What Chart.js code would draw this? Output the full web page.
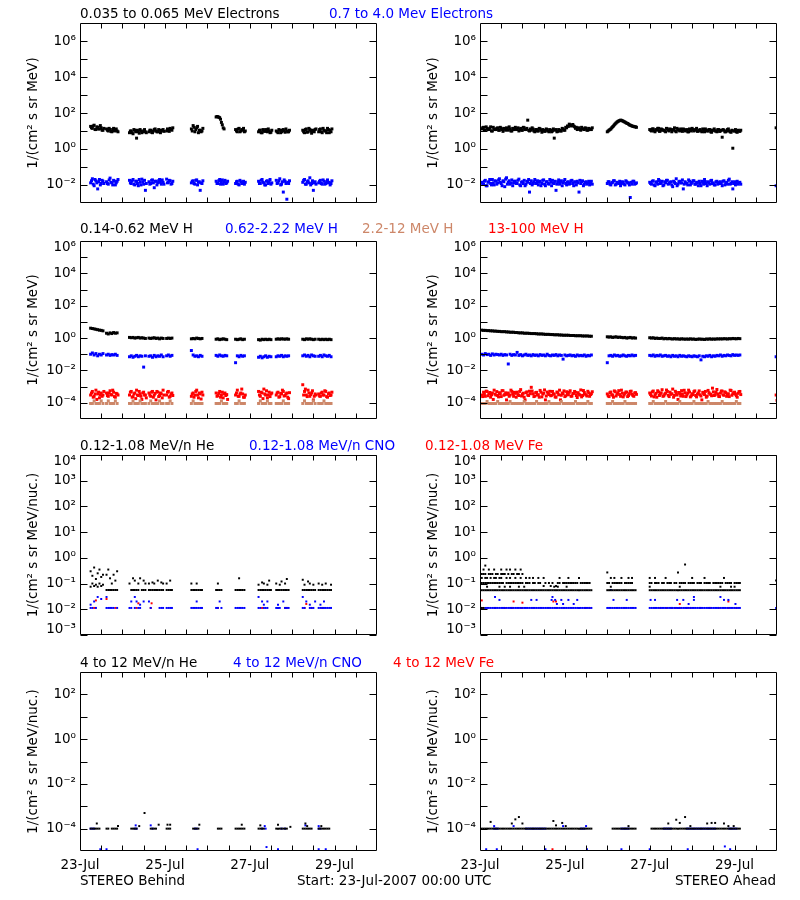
<!DOCTYPE html>
<html>
<head>
<meta charset="utf-8">
<script src="https://cdn.jsdelivr.net/npm/chart.js@4.4.1/dist/chart.umd.min.js"></script>
<style>
  body { margin: 0; background: #fff; }
  #page { position: relative; width: 800px; height: 900px; background: #fff; font-family: "DejaVu Sans", sans-serif; font-size: 13.5px; }
  #page canvas { position: absolute; }
  .lbl { position: absolute; white-space: nowrap; line-height: 16px; }
</style>
</head>
<body>
<div id="page"></div>
<script>
// time axis: hours after 23-Jul-2007 00:00 UTC
const xLabelHours = [0, 48, 96, 144];
const xLabels = ['23-Jul', '25-Jul', '27-Jul', '29-Jul'];
const xTickMarks = [12, 24, 36, 48, 60, 72, 84, 96, 108, 120, 132, 144, 156];

// hourly sample spans (first hour, last hour)
const behindSpans = [[6, 13], [15, 21], [28, 37], [39, 47], [49, 52], [63, 69], [77, 83], [88, 93], [101, 108], [111, 118], [126, 133], [135, 142]];
const aheadSpans = [[1, 63], [72, 88], [96, 147], [167.5, 167.5]];

// ---- electrons, STEREO Behind (hh:00 and hh:30 samples)
const elecLoBehind = [
  [18, 14, 21, 12, 16, 13, 15, 11],
  [13, 10, 12, 9, 14, 11, 10],
  [8, 10, 7, 11, 4, 9, 12, 8, 10, 9],
  [9, 11, 8, 12, 10, 9, 11, 10, 12],
  [10, 12, 14, 11],
  [13, 20, 9, 15, 8, 11, 10],
  [60, 62, 55, 30, 15, null, null],
  [12, 9, 14, 10, 11, 9],
  [9, 11, 8, 10, 12, 9, 10, 8.5],
  [10, 8, 11, 9, 12, 8.5, 10, 9],
  [11, 8, 13, 9, 12, 7.5, 10, 12],
  [9, 13, 8, 11, 10, 14, 8, 9]
];
const elecLoBehindHalf = [
  [15, 19, 12, 17, 13, 20, 11, 14],
  [11, 14, 9.5, 12, 10, 13, 9],
  [10, 8, 12, 9, 11, 7.5, 10, 9, 12, 8],
  [11, 8.5, 10, 13, 9, 12, 8, 11, 9.5],
  [13, 9.5, 12, 15],
  [10, 16, 12, 18, 11, 9, 14],
  [64, 58, 45, 22, 13, null, null],
  [10, 13, 9, 12, 14, 10],
  [11, 8, 12, 9.5, 10, 13, 8, 11],
  [9, 12, 8, 11, 10, 13, 9, 11],
  [9, 12, 8.5, 14, 10, 11, 9, 13],
  [12, 9, 14, 10, 8, 12, 11, 13]
];
const elecHiBehind = [
  [0.013, 0.022, 0.009, 0.017, 0.006, 0.02, 0.012, 0.016],
  [0.015, 0.011, 0.024, 0.013, 0.018, 0.01, 0.016],
  [0.018, 0.012, 0.02, 0.01, 0.016, 0.009, 0.014, 0.021, 0.011, 0.005],
  [0.015, 0.012, 0.019, 0.007, 0.016, 0.013, 0.02, 0.011, 0.014],
  [0.021, 0.014, 0.017, 0.012],
  [0.013, 0.017, 0.011, 0.019, 0.014, 0.005, 0.012],
  [0.016, 0.012, 0.02, 0.014, 0.011, 0.018, 0.013],
  [0.012, 0.016, 0.01, 0.015, 0.013, 0.011],
  [0.016, 0.012, 0.02, 0.013, 0.01, 0.017, 0.014, 0.011],
  [0.018, 0.013, 0.022, 0.011, 0.004, 0.016, 0.0016, 0.012],
  [0.014, 0.02, 0.011, 0.017, 0.025, 0.012, 0.005, 0.015],
  [0.013, 0.018, 0.011, 0.016, 0.012, 0.019, 0.014, 0.012]
];
const elecHiBehindHalf = [
  [0.017, 0.011, 0.02, 0.013, 0.015, 0.01, 0.018, 0.012],
  [0.012, 0.019, 0.014, 0.01, 0.016, 0.013, 0.02],
  [0.013, 0.017, 0.011, 0.016, 0.012, 0.02, 0.01, 0.015, 0.018, 0.012],
  [0.011, 0.018, 0.013, 0.016, 0.01, 0.017, 0.014, 0.019, 0.011],
  [0.013, 0.018, 0.011, 0.016],
  [0.016, 0.012, 0.018, 0.01, 0.015, 0.013, 0.017],
  [0.012, 0.017, 0.011, 0.019, 0.015, 0.012, 0.016],
  [0.015, 0.011, 0.018, 0.012, 0.016, 0.014],
  [0.012, 0.018, 0.014, 0.01, 0.016, 0.012, 0.02, 0.013],
  [0.012, 0.017, 0.01, 0.015, 0.019, 0.012, 0.014, 0.017],
  [0.018, 0.011, 0.015, 0.013, 0.01, 0.017, 0.013, 0.011],
  [0.016, 0.012, 0.019, 0.011, 0.015, 0.013, 0.01, 0.017]
];

// ---- electrons, STEREO Ahead (hh:00 and hh:30 samples)
const elecLoAhead = [
  [13, 16, 11, 14, 12, 17, 10, 13, 12, 15, 11, 14, 9.5, 13, 15, 11, 13, 10, 12, 16,
   12, 10, 14, 11, 15, 12, 40, 10, 11, 13, 9, 12, 10, 13, 8.5, 11, 10, 12, 9, 11,
   10, 4, 12, 9.5, 11, 10, 13, 11, 15, 18, 22, 20, 19, 14, 12, 15, 11, 13, 12, 14,
   11, 13, 12],
  [9, 11, 13, 17, 22, 28, 34, 38, 39, 35, 31, 27, 24, 21, 19, 18, 17],
  [12, 10, 13, 9, 11, 14, 10, 12, 11, 9, 13, 10, 12, 11, 15, 9, 12, 10, 11, 13,
   10, 12, 9, 11, 14, 10, 12, 9.5, 11, 10, 13, 9, 11, 10, 12, 8.5, 11, 10, 9, 12,
   10, 4.5, 11, 9, 12, 10, 8.5, 1.1, 10, 9, 11, 9.5],
  [15]
];
const elecLoAheadHalf = [
  [15, 11, 17, 12, 14, 10, 16, 12, 14, 11, 16, 12, 14, 11, 13, 17, 10, 14, 12, 13,
   15, 12, 11, 16, 12, 14, 11, 13, 15, 10, 12, 10, 14, 11, 12, 9.5, 13, 10, 12, 9,
   13, 11, 9, 12, 10, 14, 11, 16, 19, 24, 19, 23, 17, 16, 14, 12, 16, 13, 15, 11,
   14, 12, 15],
  [10, 12, 15, 19, 25, 31, 36, 40, 37, 33, 29, 26, 22, 20, 18, 17, 16],
  [11, 13, 10, 12, 14, 9.5, 13, 11, 10, 14, 11, 13, 9, 12, 10, 14, 11, 13, 9.5, 12,
   11, 9, 13, 10, 12, 11, 14, 10, 12, 9, 11, 13, 10, 12, 9, 11, 13, 10, 12, 9.5,
   11, 12, 9, 10, 13, 9, 11, 10, 12, 8.5, 10, 11],
  [null]
];
const elecHiAhead = [
  [0.014, 0.011, 0.018, 0.009, 0.015, 0.012, 0.02, 0.01, 0.016, 0.013,
   0.022, 0.012, 0.017, 0.008, 0.025, 0.014, 0.011, 0.019, 0.013, 0.016,
   0.012, 0.021, 0.009, 0.015, 0.018, 0.011, 0.014, 0.004, 0.017, 0.012,
   0.02, 0.013, 0.01, 0.016, 0.012, 0.019, 0.009, 0.015, 0.011, 0.014,
   0.018, 0.012, 0.005, 0.015, 0.011, 0.017, 0.013, 0.02, 0.01, 0.015,
   0.012, 0.018, 0.009, 0.014, 0.016, 0.004, 0.012, 0.017, 0.011, 0.015,
   0.013, 0.01, 0.016],
  [0.012, 0.015, 0.01, 0.014, 0.017, 0.011, 0.013, 0.016, 0.012, 0.014, 0.01, 0.015, 0.013, 0.002, 0.011, 0.016, 0.012],
  [0.014, 0.011, 0.017, 0.009, 0.015, 0.02, 0.012, 0.016, 0.01, 0.013,
   0.018, 0.012, 0.015, 0.008, 0.014, 0.022, 0.011, 0.016, 0.013, 0.006,
   0.015, 0.012, 0.019, 0.01, 0.014, 0.017, 0.011, 0.013, 0.016, 0.009,
   0.014, 0.02, 0.012, 0.015, 0.011, 0.018, 0.013, 0.01, 0.016, 0.012,
   0.015, 0.009, 0.017, 0.013, 0.011, 0.021, 0.012, 0.006, 0.015, 0.013,
   0.011, 0.014],
  [0.009]
];
const elecHiAheadHalf = [
  [0.011, 0.016, 0.009, 0.014, 0.02, 0.01, 0.013, 0.017, 0.011, 0.019,
   0.014, 0.009, 0.015, 0.021, 0.011, 0.017, 0.013, 0.009, 0.016, 0.012,
   0.018, 0.01, 0.014, 0.012, 0.009, 0.016, 0.02, 0.012, 0.01, 0.015,
   0.012, 0.017, 0.014, 0.009, 0.018, 0.011, 0.015, 0.012, 0.02, 0.009,
   0.013, 0.016, 0.011, 0.019, 0.014, 0.009, 0.016, 0.012, 0.014, 0.011,
   0.017, 0.012, 0.015, 0.01, 0.013, 0.018, 0.015, 0.009, 0.014, 0.011,
   0.016, 0.013, 0.011],
  [0.015, 0.011, 0.013, 0.017, 0.01, 0.014, 0.012, 0.009, 0.015, 0.011, 0.017, 0.013, 0.01, 0.014, 0.016, 0.011, 0.013],
  [0.012, 0.016, 0.01, 0.014, 0.011, 0.017, 0.013, 0.009, 0.015, 0.018,
   0.011, 0.014, 0.01, 0.016, 0.012, 0.009, 0.015, 0.013, 0.019, 0.011,
   0.013, 0.01, 0.016, 0.012, 0.017, 0.011, 0.014, 0.009, 0.012, 0.016,
   0.011, 0.015, 0.009, 0.013, 0.017, 0.012, 0.01, 0.015, 0.011, 0.014,
   0.012, 0.016, 0.01, 0.014, 0.018, 0.011, 0.015, 0.012, 0.01, 0.016,
   0.013, 0.011],
  [null]
];

// ---- protons, STEREO Behind
const hLoBehind = [
  [4.1, 3.9, 3.7, 3.5, 3.3, 3.1, 3.0, 2.8],
  [2.0, 1.8, 2.1, 1.9, 2.2, 2.0, 2.1],
  [1.1, 1.05, 1.1, 1.0, 1.05, 1.1, 1.0, 1.05, 1.0, 0.95],
  [1.0, 0.95, 1.0, 1.05, 0.95, 1.0, 0.9, 1.0, 0.95],
  [0.95, 1.0, 0.95, 1.0],
  [0.9, 0.95, 0.9, 1.0, 0.95, 0.9, 0.95],
  [0.85, 0.9, 0.8, 0.85, 0.9, 0.85, 0.8],
  [0.85, 0.8, 0.85, 0.9, 0.8, 0.85],
  [0.8, 0.75, 0.85, 0.8, 0.85, 0.8, 0.85, 0.8],
  [0.85, 0.9, 0.85, 0.9, 0.88, 0.85, 0.9, 0.85],
  [0.85, 0.8, 0.9, 0.85, 0.9, 0.85, 0.8, 0.85],
  [0.85, 0.8, 0.85, 0.8, 0.85, 0.8, 0.85, 0.8]
];
const hMidBehind = [
  [0.1, 0.12, 0.09, 0.11, 0.08, 0.1, 0.09, 0.11],
  [0.09, 0.1, 0.085, 0.095, 0.09, 0.1, 0.085],
  [0.07, 0.08, 0.065, 0.075, 0.085, 0.07, 0.08, 0.075, 0.016, 0.08],
  [0.075, 0.08, 0.065, 0.085, 0.07, 0.08, 0.075, 0.09, 0.07],
  [0.08, 0.09, 0.075, 0.085],
  [0.17, 0.09, 0.075, 0.08, 0.07, 0.085, 0.075],
  [0.085, 0.075, 0.09, 0.08, 0.075, 0.085, 0.08],
  [0.03, 0.08, 0.07, 0.085, 0.075, 0.08],
  [0.065, 0.075, 0.06, 0.07, 0.08, 0.065, 0.075, 0.07],
  [0.07, 0.08, 0.075, 0.085, 0.07, 0.08, 0.075, 0.08],
  [0.08, 0.09, 0.075, 0.085, 0.07, 0.09, 0.08, 0.075],
  [0.075, 0.085, 0.07, 0.09, 0.08, 0.075, 0.085, 0.07]
];
const hTanBehind = [
  [9e-5, 9e-5, 1.3e-4, 9e-5, 9e-5, 9e-5, 1.3e-4, 9e-5],
  [9e-5, 1.3e-4, 9e-5, 9e-5, 9e-5, 1.3e-4, 9e-5],
  [9e-5, 9e-5, 1.3e-4, 9e-5, 9e-5, 9e-5, 1.3e-4, 9e-5, 9e-5, 9e-5],
  [9e-5, 1.3e-4, 9e-5, 9e-5, 9e-5, 9e-5, 1.3e-4, 9e-5, 9e-5],
  [9e-5, 9e-5, 1.3e-4, 9e-5],
  [9e-5, 1.3e-4, 9e-5, 9e-5, 9e-5, 9e-5, 9e-5],
  [9e-5, 9e-5, 9e-5, 1.3e-4, 9e-5, 9e-5, 9e-5],
  [9e-5, 9e-5, 1.3e-4, 9e-5, 9e-5, 9e-5],
  [9e-5, 1.3e-4, 9e-5, 9e-5, 9e-5, 1.3e-4, 9e-5, 9e-5],
  [9e-5, 9e-5, 9e-5, 9e-5, 1.3e-4, 9e-5, 9e-5, 9e-5],
  [9e-5, 1.3e-4, 9e-5, 9e-5, 9e-5, 9e-5, 1.3e-4, 9e-5],
  [9e-5, 9e-5, 9e-5, 1.3e-4, 9e-5, 9e-5, 9e-5, 9e-5]
];
const hHiBehind = [
  [3e-4, 5e-4, 2.5e-4, 6e-4, 3.5e-4, 2e-4, 4e-4, 3e-4],
  [4e-4, 2.5e-4, 5.5e-4, 3e-4, 4.5e-4, 2.2e-4, 3.5e-4],
  [3e-4, 5e-4, 2.4e-4, 4e-4, 6e-4, 2.8e-4, 3.5e-4, 1.6e-4, 4.5e-4, 3e-4],
  [4e-4, 2.5e-4, 5e-4, 3e-4, 1.5e-4, 4.5e-4, 2.8e-4, 3.5e-4, 6e-4],
  [3e-4, 5e-4, 2.5e-4, 4e-4],
  [2.5e-4, 4e-4, 3e-4, 6e-4, 2e-4, 3.5e-4, 4.5e-4],
  [4e-4, 2.8e-4, 5e-4, 3e-4, 2e-4, 4e-4, 3.2e-4],
  [3e-4, 6e-4, 2.5e-4, 4e-4, 3.5e-4, 2.2e-4],
  [5e-4, 2.5e-4, 4e-4, 7e-4, 3e-4, 2e-4, 4.5e-4, 3.5e-4],
  [3e-4, 4.5e-4, 2.4e-4, 3.5e-4, 5e-4, 2.8e-4, 4e-4, 1.8e-4],
  [1.3e-3, 5e-4, 3e-4, 6e-4, 2.5e-4, 4e-4, 1.5e-4, 3.5e-4],
  [3.5e-4, 2.5e-4, 4.5e-4, 3e-4, 5e-4, 2.2e-4, 4e-4, 3e-4]
];
const hHiBehindHalf = [
  [4e-4, 2.2e-4, 3.5e-4, 1.6e-4, 4.5e-4, 3e-4, 2.5e-4, 5e-4],
  [2.8e-4, 4e-4, 3.2e-4, 6e-4, 2.4e-4, 3.8e-4, 3e-4],
  [4.5e-4, 2.2e-4, 3.5e-4, 1.8e-4, 3e-4, 5e-4, 2.5e-4, 4e-4, 3e-4, 2e-4],
  [3e-4, 4.5e-4, 2.2e-4, 3.8e-4, 5e-4, 2.4e-4, 4e-4, 2e-4, 3e-4],
  [4.5e-4, 2.2e-4, 3.5e-4, 2.8e-4],
  [3.5e-4, 2.2e-4, 5e-4, 3e-4, 4e-4, 1.7e-4, 3e-4],
  [2.5e-4, 3.8e-4, 2.2e-4, 4.5e-4, 3.5e-4, 2.8e-4, 1.6e-4],
  [4e-4, 2.5e-4, 3.5e-4, 7e-4, 2.2e-4, 3e-4],
  [3e-4, 4.5e-4, 1.8e-4, 3.5e-4, 5.5e-4, 3e-4, 2.4e-4, 4e-4],
  [4e-4, 2.2e-4, 3.8e-4, 6e-4, 2.6e-4, 3.5e-4, 2.2e-4, 4.2e-4],
  [3e-4, 7e-4, 2.4e-4, 4e-4, 3.2e-4, 5.5e-4, 2.5e-4, 3e-4],
  [2.6e-4, 4e-4, 3e-4, 5.5e-4, 2.4e-4, 3.6e-4, 2.8e-4, 4.5e-4]
];

// ---- protons, STEREO Ahead
const hLoAhead = [
  [3.1, 3.0, 3.0, 2.9, 2.9, 2.8, 2.8, 2.7, 2.7, 2.6, 2.6, 2.5, 2.5, 2.5, 2.4, 2.4, 2.3, 2.3, 2.3, 2.2,
   2.2, 2.1, 2.1, 2.1, 2.0, 2.0, 2.0, 1.95, 1.9, 1.9, 1.9, 1.85, 1.8, 1.8, 1.8, 1.75, 1.7, 1.7, 1.7, 1.65,
   1.65, 1.6, 1.6, 1.6, 1.55, 1.55, 1.5, 1.5, 1.5, 1.5, 1.45, 1.45, 1.45, 1.4, 1.4, 1.4, 1.4, 1.35, 1.35, 1.35,
   1.35, 1.3, 1.3],
  [1.2, 1.15, 1.2, 1.1, 1.15, 1.2, 1.1, 1.15, 1.1, 1.05, 1.1, 1.0, 1.05, 1.1, 1.0, 1.05, 1.0],
  [1.05, 1.0, 1.05, 0.95, 1.0, 0.95, 0.95, 1.0, 0.9, 0.95, 0.9, 0.95, 0.9, 0.88, 0.92, 0.88, 0.9, 0.85, 0.9, 0.88,
   0.85, 0.88, 0.85, 0.9, 0.85, 0.88, 0.82, 0.85, 0.88, 0.85, 0.85, 0.82, 0.88, 0.85, 0.9, 0.85, 0.88, 0.85, 0.9, 0.88,
   0.9, 0.88, 0.92, 0.9, 0.88, 0.92, 0.9, 0.95, 0.92, 0.9, 0.95, 0.92],
  [null]
];
const hMidAhead = [
  [0.1, 0.09, 0.11, 0.095, 0.1, 0.085, 0.105, 0.09, 0.1, 0.095,
   0.09, 0.1, 0.085, 0.095, 0.09, 0.025, 0.1, 0.085, 0.095, 0.09,
   0.13, 0.085, 0.095, 0.08, 0.09, 0.1, 0.085, 0.09, 0.08, 0.095,
   0.085, 0.09, 0.08, 0.095, 0.085, 0.09, 0.08, 0.1, 0.085, 0.08,
   0.09, 0.085, 0.095, 0.08, 0.09, 0.085, 0.05, 0.09, 0.08, 0.085,
   0.09, 0.08, 0.085, 0.075, 0.09, 0.08, 0.085, 0.08, 0.09, 0.075,
   0.085, 0.08, 0.09],
  [0.03, 0.08, 0.085, 0.075, 0.09, 0.08, 0.085, 0.075, 0.08, 0.09, 0.08, 0.075, 0.085, 0.08, 0.09, 0.08, 0.085],
  [0.085, 0.08, 0.09, 0.075, 0.085, 0.08, 0.09, 0.075, 0.08, 0.085,
   0.075, 0.08, 0.07, 0.085, 0.075, 0.08, 0.07, 0.085, 0.075, 0.08,
   0.075, 0.07, 0.08, 0.075, 0.07, 0.08, 0.075, 0.07, 0.08, 0.045,
   0.075, 0.07, 0.08, 0.075, 0.085, 0.07, 0.08, 0.075, 0.085, 0.08,
   0.09, 0.075, 0.085, 0.08, 0.09, 0.085, 0.08, 0.095, 0.085, 0.09,
   0.085, 0.09],
  [0.07]
];
const hTanAhead = [
  [9e-5, 9e-5, 9e-5, 1.2e-4, 9e-5, 9e-5, 9e-5, 9e-5, 9e-5, 1.2e-4,
   9e-5, 9e-5, 9e-5, 9e-5, 9e-5, 9e-5, 1.2e-4, 9e-5, 9e-5, 9e-5,
   9e-5, 9e-5, 9e-5, 9e-5, 1.2e-4, 9e-5, 9e-5, 9e-5, 9e-5, 9e-5,
   9e-5, 1.2e-4, 9e-5, 9e-5, 9e-5, 9e-5, 9e-5, 9e-5, 1.2e-4, 9e-5,
   9e-5, 9e-5, 9e-5, 9e-5, 9e-5, 1.2e-4, 9e-5, 9e-5, 9e-5, 9e-5,
   9e-5, 9e-5, 9e-5, 1.2e-4, 9e-5, 9e-5, 9e-5, 9e-5, 9e-5, 9e-5,
   1.2e-4, 9e-5, 9e-5],
  [9e-5, 9e-5, 9e-5, 1.2e-4, 9e-5, 9e-5, 9e-5, 9e-5, 9e-5, 9e-5, 1.2e-4, 9e-5, 9e-5, 9e-5, 9e-5, 9e-5, 9e-5],
  [9e-5, 9e-5, 1.2e-4, 9e-5, 9e-5, 9e-5, 9e-5, 9e-5, 9e-5, 1.2e-4,
   9e-5, 9e-5, 9e-5, 9e-5, 9e-5, 9e-5, 9e-5, 1.2e-4, 9e-5, 9e-5,
   9e-5, 9e-5, 9e-5, 9e-5, 9e-5, 1.2e-4, 9e-5, 9e-5, 9e-5, 9e-5,
   9e-5, 9e-5, 9e-5, 1.2e-4, 9e-5, 9e-5, 9e-5, 9e-5, 9e-5, 9e-5,
   9e-5, 1.2e-4, 9e-5, 9e-5, 9e-5, 9e-5, 9e-5, 9e-5, 9e-5, 1.2e-4,
   9e-5, 9e-5],
  [null]
];
const hHiAhead = [
  [3e-4, 4.5e-4, 2.5e-4, 5e-4, 3.5e-4, 2.2e-4, 4e-4, 6e-4, 3e-4, 2.8e-4,
   4.2e-4, 2.4e-4, 5.5e-4, 3.2e-4, 1.5e-4, 4e-4, 3e-4, 5e-4, 2.5e-4, 3.8e-4,
   4.5e-4, 2.8e-4, 6.5e-4, 3.3e-4, 2.2e-4, 4.2e-4, 3e-4, 5.2e-4, 9e-4, 3.6e-4,
   2.6e-4, 4.4e-4, 3.1e-4, 5.8e-4, 2.3e-4, 3.9e-4, 1.5e-4, 4.6e-4, 3.2e-4, 2.7e-4,
   5e-4, 3.4e-4, 2.2e-4, 4.1e-4, 6e-4, 2.9e-4, 3.7e-4, 2.4e-4, 4.8e-4, 3.1e-4,
   5.5e-4, 2.6e-4, 3.8e-4, 4.4e-4, 2.1e-4, 3.3e-4, 6.2e-4, 2.8e-4, 4.3e-4, 3e-4,
   5.1e-4, 2.5e-4, 3.6e-4],
  [3.5e-4, 2.4e-4, 4.6e-4, 3e-4, 5.4e-4, 2.6e-4, 4e-4, 3.2e-4, 6e-4, 2.3e-4, 3.8e-4, 4.5e-4, 2.8e-4, 5e-4, 3.3e-4, 2.5e-4, 4.2e-4],
  [4e-4, 2.6e-4, 5.3e-4, 3.1e-4, 2.2e-4, 4.6e-4, 3.5e-4, 6.4e-4, 2.7e-4, 3.9e-4,
   5e-4, 2.4e-4, 3.3e-4, 7e-4, 2.9e-4, 4.3e-4, 1.6e-4, 3.7e-4, 5.6e-4, 2.5e-4,
   4.1e-4, 3e-4, 6e-4, 2.3e-4, 3.6e-4, 4.8e-4, 2.8e-4, 3.4e-4, 5.4e-4, 2.6e-4,
   4.4e-4, 3.2e-4, 2.2e-4, 5.8e-4, 3.5e-4, 2.7e-4, 4.7e-4, 3.1e-4, 6.6e-4, 2.5e-4,
   3.9e-4, 5.2e-4, 2.9e-4, 4.2e-4, 3.3e-4, 2.4e-4, 5.7e-4, 3.6e-4, 4.5e-4, 2.7e-4,
   3.8e-4, 5e-4],
  [3e-4]
];
const hHiAheadHalf = [
  [2.4e-4, 3.6e-4, 5.2e-4, 2.7e-4, 4.3e-4, 3.1e-4, 1.6e-4, 3.4e-4, 4.9e-4, 2.3e-4,
   3.7e-4, 5.6e-4, 2.9e-4, 4.1e-4, 3.3e-4, 2.5e-4, 6e-4, 3.5e-4, 4.4e-4, 2.2e-4,
   3.2e-4, 5e-4, 2.6e-4, 3.9e-4, 1.5e-4, 4.7e-4, 2.8e-4, 3.6e-4, 5.3e-4, 2.4e-4,
   4.2e-4, 3e-4, 2.2e-4, 4.5e-4, 3.4e-4, 6.2e-4, 2.6e-4, 3.8e-4, 5.1e-4, 2.9e-4,
   3.5e-4, 2.3e-4, 4.6e-4, 3.1e-4, 1.5e-4, 4e-4, 5.4e-4, 2.7e-4, 3.3e-4, 4.4e-4,
   2.5e-4, 3.7e-4, 5e-4, 2.8e-4, 4.2e-4, 3e-4, 2.3e-4, 5.7e-4, 3.4e-4, 2.6e-4,
   4.1e-4, 3.2e-4, 4.8e-4],
  [2.7e-4, 4.2e-4, 3.1e-4, 2.2e-4, 4.8e-4, 3.4e-4, 5.6e-4, 2.5e-4, 3.9e-4, 3e-4, 4.6e-4, 2.4e-4, 3.6e-4, 5.2e-4, 2.8e-4, 4e-4, 3.3e-4],
  [3.2e-4, 4.7e-4, 2.3e-4, 3.8e-4, 5.5e-4, 2.8e-4, 4.1e-4, 2.5e-4, 3.4e-4, 6.1e-4,
   2.9e-4, 4.5e-4, 3.6e-4, 2.2e-4, 5.1e-4, 3e-4, 4.3e-4, 2.6e-4, 3.5e-4, 5.9e-4,
   2.4e-4, 3.9e-4, 4.6e-4, 2.7e-4, 3.2e-4, 5.4e-4, 2.3e-4, 4e-4, 3.1e-4, 1.5e-4,
   3.7e-4, 5e-4, 2.6e-4, 4.2e-4, 3.3e-4, 8e-4, 2.8e-4, 4.4e-4, 3.5e-4, 2.4e-4,
   5.3e-4, 3.1e-4, 4.7e-4, 2.5e-4, 3.6e-4, 6e-4, 2.9e-4, 4.1e-4, 3.4e-4, 2.2e-4,
   4.8e-4, 3.2e-4],
  [1.4e-4]
];

// ---- 0.12-1.08 MeV/n ions, STEREO Behind
const heBehindBase = [
  [0.075, 0.1, 0.08, 0.09, 0.075, 0.1, 0.08, 0.09],
  [0.056, 0.056, 0.056, 0.056, 0.056, 0.056, 0.056],
  [null, 0.056, 0.056, 0.056, 0.056, 0.056, null, 0.056, 0.056, 0.056],
  [0.056, 0.056, 0.056, 0.056, 0.056, 0.056, 0.056, 0.056, 0.056],
  [0.056, 0.056, 0.056, 0.056],
  [0.056, 0.056, 0.056, 0.056, 0.056, 0.056, 0.056],
  [0.056, 0.056, 0.056, 0.056, null, null, null],
  [0.056, 0.056, 0.056, 0.056, 0.056, 0.056],
  [0.056, 0.056, 0.056, 0.056, 0.056, 0.056, 0.056, 0.056],
  [0.056, 0.056, 0.056, 0.056, 0.056, 0.056, 0.056, 0.056],
  [0.056, 0.056, 0.056, 0.056, 0.056, 0.056, 0.056, 0.056],
  [0.056, 0.056, 0.056, 0.056, 0.056, 0.056, 0.056, 0.056]
];
const heBehindUpper = [
  [0.3, 0.2, 0.42, 0.15, 0.25, 0.35, 0.18, 0.22],
  [0.22, 0.35, 0.16, 0.1, 0.22, 0.13, 0.3],
  [0.1, null, 0.16, 0.13, null, 0.1, 0.16, null, 0.13, 0.1],
  [0.1, null, 0.11, 0.1, null, 0.13, null, 0.11, 0.1],
  [0.1, null, 0.13, null],
  [0.1, null, null, 0.1, null, null, null],
  [null, 0.1, null, null, null, null, null],
  [null, null, 0.16, null, null, null],
  [0.09, null, 0.11, 0.1, null, 0.09, 0.13, null],
  [0.1, null, 0.09, 0.12, null, 0.1, 0.15, null],
  [0.14, 0.09, null, 0.12, 0.1, null, 0.09, null],
  [0.1, null, 0.09, null, 0.1, null, null, 0.09]
];
const cnoBehindBase = [
  [0.0112, 0.0112, null, 0.0112, null, null, null, null],
  [0.0112, 0.0112, 0.0112, 0.0112, 0.0112, null, 0.0112],
  [0.0112, 0.0112, null, 0.0112, null, 0.0112, 0.0112, null, null, null],
  [null, 0.0112, null, null, null, null, 0.0112, 0.0112, 0.0112],
  [0.0112, 0.0112, 0.0112, 0.0112],
  [0.0112, 0.0112, 0.0112, 0.0112, 0.0112, 0.0112, 0.0112],
  [0.0112, 0.0112, null, 0.0112, null, null, null],
  [0.0112, 0.0112, 0.0112, 0.0112, 0.0112, 0.0112],
  [0.0112, 0.0112, null, 0.0112, 0.0112, 0.0112, null, null],
  [0.0112, 0.0112, 0.0112, null, null, 0.0112, 0.0112, 0.0112],
  [0.0112, 0.0112, null, null, 0.0112, 0.0112, 0.0112, null],
  [0.0112, 0.0112, 0.0112, 0.0112, 0.0112, 0.0112, 0.0112, 0.0112]
];
const cnoBehindUpper = [
  [0.015, null, 0.02, null, 0.03, null, 0.025, null],
  [0.03, null, null, null, null, null, null],
  [null, 0.02, null, 0.03, 0.02, null, 0.015, null, 0.02, null],
  [0.02, null, null, null, null, null, null, null, null],
  [null, null, null, null],
  [null, null, null, 0.02, null, null, null],
  [null, null, 0.02, null, null, null, null],
  [null, null, null, null, null, null],
  [0.03, null, 0.02, 0.015, null, 0.02, null, null],
  [null, 0.015, null, null, 0.02, null, null, null],
  [0.03, null, 0.02, null, 0.015, null, null, 0.02],
  [null, 0.015, null, 0.02, null, null, null, null]
];
// [hour, value]
const feBehind = [[8, 0.0112], [9, 0.022], [15, 0.025], [20, 0.0112], [32, 0.0112], [33, 0.017], [40, 0.0112], [40.5, 0.017],
  [78, 0.0112], [103, 0.0112], [116, 0.0112], [117, 0.0112], [127, 0.0112], [128, 0.016], [131, 0.0112], [137, 0.0112]];

// ---- 0.12-1.08 MeV/n ions, STEREO Ahead
const heAheadBase = [
  [0.055, 0.055, 0.055, 0.055, 0.055, 0.055, 0.055, 0.055, 0.055, 0.055, 0.055, 0.055, 0.055, 0.055, 0.055, 0.055,
   0.055, 0.055, 0.055, 0.055, 0.055, 0.055, 0.055, 0.055, 0.055, 0.055, 0.055, 0.055, 0.055, 0.055, 0.055, 0.055,
   0.055, 0.055, 0.055, 0.055, 0.055, 0.055, 0.055, 0.055, 0.055, 0.055, 0.055, 0.055, 0.055, 0.055, 0.055, 0.055,
   0.055, 0.055, 0.055, 0.055, 0.055, 0.055, 0.055, 0.055, 0.055, 0.055, 0.055, 0.055, 0.055, 0.055, 0.055],
  [0.055, 0.055, 0.055, 0.055, 0.055, 0.055, 0.055, 0.055, 0.055, 0.055, 0.055, 0.055, 0.055, 0.055, 0.055, 0.055, 0.055],
  [0.055, 0.055, 0.055, 0.055, 0.055, 0.055, 0.055, 0.055, 0.055, 0.055, 0.055, 0.055, 0.055, 0.055, 0.055, 0.055,
   0.055, 0.055, 0.055, 0.055, 0.055, 0.055, 0.055, 0.055, 0.055, 0.055, 0.055, 0.055, 0.055, 0.055, 0.055, 0.055,
   0.055, 0.055, 0.055, 0.055, 0.055, 0.055, 0.055, 0.055, 0.055, 0.055, 0.055, 0.055, 0.055, 0.055, 0.055, 0.055,
   0.055, 0.055, 0.055, 0.055],
  [null]
];
const heAheadMid = [
  [0.105, 0.105, 0.105, 0.105, 0.105, 0.105, 0.105, 0.105, 0.105, 0.105,
   0.105, 0.105, 0.105, null, 0.105, 0.105, 0.105, 0.105, 0.105, 0.105,
   0.105, 0.105, 0.105, 0.105, null, 0.105, 0.105, 0.105, null, 0.105,
   0.105, null, 0.105, 0.105, null, 0.08, 0.105, null, 0.105, 0.08,
   0.105, null, 0.08, 0.105, 0.105, null, 0.105, 0.105, 0.105, 0.105,
   0.105, 0.105, 0.105, 0.105, 0.105, null, 0.105, 0.105, 0.105, 0.105,
   0.105, 0.105, null],
  [0.105, 0.105, null, 0.105, 0.105, 0.105, 0.105, 0.105, 0.105, null, 0.105, 0.105, 0.105, 0.105, 0.105, null, null],
  [0.105, 0.105, null, 0.105, 0.105, 0.105, null, 0.105, 0.105, null,
   0.105, 0.105, 0.105, null, 0.105, 0.105, null, 0.105, 0.105, 0.105,
   0.105, null, 0.105, 0.105, 0.105, 0.105, null, 0.105, 0.105, 0.105,
   null, 0.105, 0.105, 0.105, 0.105, null, 0.105, 0.105, 0.105, 0.105,
   0.105, 0.105, null, 0.105, 0.105, 0.105, 0.105, null, 0.105, 0.105,
   0.105, 0.105],
  [null]
];
const heAheadUpper = [
  [1, 0.235], [2, 0.235], [3, 0.235], [5, 0.235], [6, 0.235], [7, 0.235], [9, 0.235], [10, 0.235], [12, 0.235],
  [13, 0.235], [14, 0.235], [16, 0.235], [18, 0.235], [19, 0.235], [21, 0.235], [22, 0.235], [24, 0.235],
  [1, 0.165], [3, 0.165], [4, 0.165], [6, 0.165], [8, 0.165], [9, 0.165], [11, 0.165], [12, 0.165], [15, 0.165],
  [17, 0.165], [20, 0.165], [23, 0.165], [26, 0.165], [28, 0.165], [30, 0.165], [33, 0.165], [36, 0.165], [45, 0.165],
  [50, 0.165], [56, 0.165], [74, 0.165], [76, 0.165], [80, 0.165], [84, 0.165], [86, 0.165], [96, 0.165], [99, 0.165],
  [105, 0.165], [120, 0.165], [127, 0.165], [138, 0.165],
  [2, 0.35], [5, 0.35], [8, 0.35], [12, 0.35], [15, 0.35], [17, 0.35], [20, 0.35], [23, 0.35],
  [72, 0.27], [112, 0.27], [116, 0.55], [3, 0.5],
  [4, 0.075], [11, 0.075], [14, 0.075], [17, 0.075], [22, 0.075], [25, 0.075], [42, 0.075], [44, 0.075], [49, 0.075],
  [74, 0.075], [96, 0.075], [113, 0.075], [136, 0.075], [142, 0.075], [144, 0.075],
  [1, 0.0112], [2, 0.0112], [167.5, 0.13]
];
const cnoAheadBase = [
  [null, null, 0.0112, 0.0112, 0.0112, 0.0112, 0.0112, 0.0112, 0.0112, 0.0112, 0.0112, 0.0112, 0.0112, 0.0112, 0.0112, 0.0112,
   0.0112, 0.0112, 0.0112, 0.0112, 0.0112, 0.0112, 0.0112, 0.0112, 0.0112, 0.0112, 0.0112, 0.0112, 0.0112, 0.0112, 0.0112, 0.0112,
   0.0112, 0.0112, 0.0112, 0.0112, 0.0112, 0.0112, 0.0112, 0.0112, 0.0112, 0.0112, 0.0112, 0.0112, 0.0112, 0.0112, 0.0112, 0.0112,
   0.0112, 0.0112, 0.0112, 0.0112, 0.0112, 0.0112, 0.0112, 0.0112, 0.0112, 0.0112, 0.0112, 0.0112, 0.0112, 0.0112, 0.0112],
  [0.0112, 0.0112, 0.0112, 0.0112, 0.0112, 0.0112, 0.0112, 0.0112, 0.0112, 0.0112, 0.0112, 0.0112, 0.0112, 0.0112, 0.0112, 0.0112, 0.0112],
  [0.0112, 0.0112, 0.0112, 0.0112, 0.0112, 0.0112, 0.0112, 0.0112, 0.0112, 0.0112, 0.0112, 0.0112, 0.0112, 0.0112, 0.0112, 0.0112,
   0.0112, 0.0112, 0.0112, 0.0112, 0.0112, 0.0112, 0.0112, 0.0112, 0.0112, 0.0112, 0.0112, 0.0112, 0.0112, 0.0112, 0.0112, 0.0112,
   0.0112, 0.0112, 0.0112, 0.0112, 0.0112, 0.0112, 0.0112, 0.0112, 0.0112, 0.0112, 0.0112, 0.0112, 0.0112, 0.0112, 0.0112, 0.0112,
   0.0112, 0.0112, 0.0112, 0.0112],
  [0.0112]
];
const cnoAheadUpper = [
  [8.5, 0.03], [41, 0.03], [121, 0.03], [136, 0.03],
  [11, 0.023], [29, 0.023], [32, 0.023], [40.5, 0.023], [42.5, 0.023], [46, 0.023], [50, 0.023], [55, 0.023], [75.5, 0.023],
  [83, 0.023], [96.5, 0.023], [99, 0.023], [111.5, 0.023], [115, 0.023], [121, 0.023], [138, 0.023], [140.5, 0.023],
  [43.5, 0.016], [47, 0.016], [53, 0.016], [118, 0.016], [144.5, 0.016], [74, 0.056]
];
const feAhead = [
  [1, 0.022], [1, 0.0112], [8.5, 0.0112], [14, 0.0112], [18, 0.0112], [19, 0.02], [23.5, 0.0112], [24, 0.018],
  [41.5, 0.02], [43, 0.02], [56, 0.0112], [59.5, 0.0112], [62, 0.0112], [102, 0.0112], [105.5, 0.0112], [108.5, 0.0112],
  [110.5, 0.0112], [113, 0.0112], [113, 0.016], [117, 0.0112], [119, 0.0112], [124.5, 0.0112], [130, 0.0112],
  [135, 0.0112], [140.5, 0.0112], [140.5, 0.02], [145, 0.0112]
];

// ---- 4-12 MeV/n ions, STEREO Behind
const he4Behind = [
  [1e-4, 1e-4, 1e-4, 1e-4, 1e-4, 1e-4, null, null],
  [1e-4, 1e-4, null, 1e-4, 1e-4, 1e-4, 1e-4],
  [null, 1e-4, 1e-4, 1e-4, 1e-4, null, null, null, null, null],
  [null, 1e-4, 1e-4, 1e-4, 1e-4, null, null, null, null],
  [1e-4, 1e-4, 1e-4, null],
  [null, 1e-4, 1e-4, 1e-4, 1e-4, null, null],
  [null, 1e-4, 1e-4, 1e-4, null, null, null],
  [1e-4, 1e-4, 1e-4, 1e-4, 1e-4, 1e-4],
  [1e-4, 1e-4, 1e-4, 1e-4, null, null, null, null],
  [1e-4, 1e-4, 1e-4, 1e-4, 1e-4, 1e-4, 1e-4, null],
  [1e-4, 1e-4, 1e-4, 1e-4, 1e-4, 1e-4, null, null],
  [1e-4, 1e-4, 1e-4, 1e-4, 1e-4, 1e-4, 1e-4, null]
];
const he4BehindUpper = [[9.5, 1.7e-4], [21.5, 1.3e-4], [33.5, 1.3e-4], [36.5, 5e-4], [44.5, 1.5e-4], [49.5, 1.5e-4], [51, 1.5e-4],
  [67.5, 1.5e-4], [91.5, 1.5e-4], [102, 1.4e-4], [112, 1.5e-4], [119, 1.2e-4], [127.5, 1.7e-4], [128.5, 1.3e-4], [136.5, 1.3e-4]];
const cno4Behind = [[6, 1e-4], [7, 1e-4], [8, 1e-4], [31, 1e-4], [32, 1e-4], [41, 1e-4], [65, 1e-4], [66, 1e-4], [103, 1e-4],
  [105, 1e-4], [114, 1e-4], [116, 1e-4], [135, 1e-4], [136, 1e-4],
  [31.5, 1.4e-4], [40, 1.4e-4], [104.5, 1.3e-4], [127.5, 1.4e-4], [135, 1.3e-4],
  [11.5, 1.2e-5], [15, 1.2e-5], [66.5, 1.2e-5], [105.5, 1.5e-5], [112, 1.2e-5], [135, 1.2e-5], [139, 1.2e-5]];

// ---- 4-12 MeV/n ions, STEREO Ahead
const he4Ahead = [
  [1e-4, 1e-4, 1e-4, 1e-4, 1e-4, 1e-4, 1e-4, 1e-4, 1e-4, 1e-4, 1e-4, 1e-4, 1e-4, 1e-4, 1e-4, 1e-4,
   1e-4, 1e-4, 1e-4, 1e-4, 1e-4, 1e-4, 1e-4, 1e-4, 1e-4, 1e-4, 1e-4, 1e-4, 1e-4, 1e-4, 1e-4, 1e-4,
   1e-4, 1e-4, 1e-4, 1e-4, 1e-4, 1e-4, 1e-4, 1e-4, 1e-4, 1e-4, 1e-4, 1e-4, 1e-4, 1e-4, 1e-4, 1e-4,
   1e-4, 1e-4, 1e-4, 1e-4, 1e-4, 1e-4, 1e-4, 1e-4, 1e-4, 1e-4, 1e-4, 1e-4, 1e-4, 1e-4, 1e-4],
  [null, null, null, 1e-4, 1e-4, 1e-4, 1e-4, 1e-4, 1e-4, 1e-4, 1e-4, 1e-4, 1e-4, 1e-4, 1e-4, 1e-4, 1e-4],
  [null, 1e-4, 1e-4, 1e-4, 1e-4, 1e-4, 1e-4, 1e-4, 1e-4, 1e-4, 1e-4, 1e-4, 1e-4, 1e-4, 1e-4, 1e-4,
   1e-4, 1e-4, 1e-4, 1e-4, 1e-4, 1e-4, 1e-4, 1e-4, 1e-4, 1e-4, 1e-4, 1e-4, 1e-4, 1e-4, 1e-4, 1e-4,
   1e-4, 1e-4, 1e-4, 1e-4, 1e-4, 1e-4, 1e-4, 1e-4, 1e-4, 1e-4, 1e-4, 1e-4, 1e-4, 1e-4, 1e-4, 1e-4,
   1e-4, 1e-4, 1e-4, 1e-4],
  [null]
];
const he4AheadUpper = [[6, 2e-4], [18, 1.7e-4], [20, 2.6e-4], [22, 3.3e-4], [24, 1.7e-4], [41.5, 2.2e-4], [43, 1.4e-4], [46.5, 1.8e-4],
  [48.5, 1.3e-4], [84, 1.3e-4], [106.5, 1.7e-4], [111, 2.5e-4], [113, 1.8e-4], [116, 3.3e-4], [119, 1.3e-4], [128.5, 1.7e-4],
  [131, 1.8e-4], [133, 1.8e-4], [138, 1.7e-4], [140.5, 1.3e-4], [143.5, 1.3e-4]];
const cno4Ahead = [
  [null, null, null, null, null, null, null, 1e-4, 1e-4, 1e-4, null, null, null, null, null, null,
   null, null, null, null, null, null, null, null, null, 1e-4, 1e-4, 1e-4, 1e-4, 1e-4, 1e-4, 1e-4,
   1e-4, 1e-4, 1e-4, 1e-4, 1e-4, null, null, null, null, null, null, null, null, null, null, null,
   null, null, null, null, null, null, null, null, 1e-4, 1e-4, 1e-4, null, null, null, null],
  [null, null, null, null, null, null, null, null, 1e-4, 1e-4, 1e-4, 1e-4, 1e-4, null, null, null, null],
  [null, null, null, null, null, null, null, null, 1e-4, 1e-4, 1e-4, 1e-4, 1e-4, null, null, null,
   null, null, null, null, null, 1e-4, 1e-4, 1e-4, 1e-4, 1e-4, 1e-4, 1e-4, 1e-4, 1e-4, 1e-4, 1e-4,
   1e-4, 1e-4, 1e-4, 1e-4, 1e-4, 1e-4, null, null, null, null, null, null, null, 1e-4, 1e-4, 1e-4,
   1e-4, 1e-4, null, null],
  [null]
];
const cno4AheadOther = [[8, 1.3e-4], [19, 1.3e-4], [47, 1.3e-4], [60, 1.3e-4],
  [3.5, 1.2e-5], [9.5, 1.2e-5], [37, 1.2e-5], [60.5, 1.2e-5], [80, 1.2e-5], [96, 1.2e-5], [117.5, 1.2e-5], [138.5, 1.6e-5], [141.5, 1.2e-5]];
const fe4Ahead = [[41, 1.2e-5]];

// y axes
const yTicksElec = [1e-2, 1, 1e2, 1e4, 1e6];
const yDecadesElec = [1e-2, 1e-1, 1, 1e1, 1e2, 1e3, 1e4, 1e5, 1e6];
const yTicksH = [1e-4, 1e-2, 1, 1e2, 1e4, 1e6];
const yDecadesH = [1e-4, 1e-3, 1e-2, 1e-1, 1, 1e1, 1e2, 1e3, 1e4, 1e5];
const yTicksIon = [1e-3, 1e-2, 1e-1, 1, 1e1, 1e2, 1e3, 1e4];
const yTicksIon4 = [1e-4, 1e-2, 1, 1e2];
const yDecadesIon4 = [1e-4, 1e-3, 1e-2, 1e-1, 1, 1e1, 1e2];

const BLACK = '#000000', BLUE = '#0000ff', RED = '#ff0000', TAN = 'rgb(205,135,105)';
const UNIT = '1/(cm\u00b2 s sr MeV)', UNIT_N = '1/(cm\u00b2 s sr MeV/nuc.)';

function expand(spans, groups, offset = 0) {
  const pts = [];
  spans.forEach((s, k) => {
    (groups[k] || []).forEach((v, i) => {
      if (v !== null) pts.push({x: s[0] + i + offset, y: v});
    });
  });
  return pts;
}
function pairs(list) { return list.map(p => ({x: p[0], y: p[1]})); }

const B = behindSpans, A = aheadSpans;
const panels = [
  {row: 0, col: 0, min: 1e-3, max: 1e7, ticks: yTicksElec, decades: yDecadesElec, unit: UNIT, sets: [
    [expand(B, elecLoBehind), BLACK], [expand(B, elecLoBehindHalf, 0.5), BLACK],
    [expand(B, elecHiBehind), BLUE], [expand(B, elecHiBehindHalf, 0.5), BLUE]]},
  {row: 0, col: 1, min: 1e-3, max: 1e7, ticks: yTicksElec, decades: yDecadesElec, unit: UNIT, sets: [
    [expand(A, elecLoAhead), BLACK], [expand(A, elecLoAheadHalf, 0.5), BLACK],
    [expand(A, elecHiAhead), BLUE], [expand(A, elecHiAheadHalf, 0.5), BLUE]]},
  {row: 1, col: 0, min: 1e-5, max: 1e6, ticks: yTicksH, decades: yDecadesH, unit: UNIT, sets: [
    [expand(B, hLoBehind), BLACK], [expand(B, hMidBehind), BLUE], [expand(B, hTanBehind), TAN],
    [expand(B, hHiBehind), RED], [expand(B, hHiBehindHalf, 0.5), RED]]},
  {row: 1, col: 1, min: 1e-5, max: 1e6, ticks: yTicksH, decades: yDecadesH, unit: UNIT, sets: [
    [expand(A, hLoAhead), BLACK], [expand(A, hMidAhead), BLUE], [expand(A, hTanAhead), TAN],
    [expand(A, hHiAhead), RED], [expand(A, hHiAheadHalf, 0.5), RED]]},
  {row: 2, col: 0, min: 1e-3, max: 1e4, ticks: yTicksIon, decades: yTicksIon, unit: UNIT_N, small: true, sets: [
    [expand(B, heBehindBase), BLACK], [expand(B, heBehindUpper), BLACK],
    [expand(B, cnoBehindBase), BLUE], [expand(B, cnoBehindUpper), BLUE], [pairs(feBehind), RED]]},
  {row: 2, col: 1, min: 1e-3, max: 1e4, ticks: yTicksIon, decades: yTicksIon, unit: UNIT_N, small: true, sets: [
    [expand(A, heAheadBase), BLACK], [expand(A, heAheadMid), BLACK], [pairs(heAheadUpper), BLACK],
    [expand(A, cnoAheadBase), BLUE], [pairs(cnoAheadUpper), BLUE], [pairs(feAhead), RED]]},
  {row: 3, col: 0, min: 1e-5, max: 1e3, ticks: yTicksIon4, decades: yDecadesIon4, unit: UNIT_N, small: true, sets: [
    [expand(B, he4Behind), BLACK], [pairs(he4BehindUpper), BLACK], [pairs(cno4Behind), BLUE]]},
  {row: 3, col: 1, min: 1e-5, max: 1e3, ticks: yTicksIon4, decades: yDecadesIon4, unit: UNIT_N, small: true, sets: [
    [expand(A, he4Ahead), BLACK], [pairs(he4AheadUpper), BLACK], [expand(A, cno4Ahead), BLUE],
    [pairs(cno4AheadOther), BLUE], [pairs(fe4Ahead), RED]]}
];

// layout (pixels)
const rowTop = [23, 241, 455, 672];
const rowBottom = [203, 419, 635, 851];

const SUP = {'0': '\u2070', '1': '\u00b9', '2': '\u00b2', '3': '\u00b3', '4': '\u2074', '5': '\u2075',
  '6': '\u2076', '7': '\u2077', '8': '\u2078', '9': '\u2079', '-': '\u207b'};
function powerLabel(v) {
  const e = String(Math.round(Math.log10(v)));
  return '10' + e.split('').map(c => SUP[c]).join('');
}

Chart.defaults.font.family = '"DejaVu Sans", sans-serif';
Chart.defaults.font.size = 13.5;
Chart.defaults.color = '#000';

// box, inward tick marks, edge labels pulled inside
const framePlugin = {
  id: 'frame',
  beforeDraw(chart) {
    const y = chart.scales.y;
    const items = y.getLabelItems();
    items.forEach((it, i) => {
      const v = y.ticks[i] && y.ticks[i].value;
      if (v === y.max) it.options.translation[1] += 6;
      if (v === y.min) it.options.translation[1] -= 5;
    });
  },
  afterDatasetsDraw(chart, args, opts) {
    const {ctx, chartArea: a} = chart;
    const x = chart.scales.x, y = chart.scales.y;
    const L = Math.round(a.left) + 0.5, R = Math.round(a.right) - 0.5;
    const T = Math.round(a.top) + 0.5, Bt = Math.round(a.bottom) - 0.5;
    ctx.save();
    ctx.strokeStyle = '#000';
    ctx.lineWidth = 1;
    ctx.beginPath();
    ctx.rect(L, T, R - L, Bt - T);
    xTickMarks.forEach(h => {
      const px = Math.round(x.getPixelForValue(h)) + 0.5;
      ctx.moveTo(px, Bt); ctx.lineTo(px, Bt - 5);
      ctx.moveTo(px, T); ctx.lineTo(px, T + 5);
    });
    opts.decades.forEach(v => {
      const py = Math.round(y.getPixelForValue(v)) + 0.5;
      ctx.moveTo(L, py); ctx.lineTo(L + 7, py);
    });
    opts.ticks.forEach(v => {
      const py = Math.round(y.getPixelForValue(v)) + 0.5;
      ctx.moveTo(R, py); ctx.lineTo(R - 7, py);
    });
    ctx.stroke();
    ctx.restore();
  }
};

const page = document.getElementById('page');

panels.forEach(p => {
  const last = p.row === 3;
  const cv = document.createElement('canvas');
  const h = rowBottom[p.row] - rowTop[p.row] + 12 + (last ? 40 : 12);
  cv.width = 400;
  cv.height = h;
  cv.style.left = (p.col * 400) + 'px';
  cv.style.top = (rowTop[p.row] - 12) + 'px';
  page.appendChild(cv);

  const r = p.small ? 1.4 : 2.1;
  new Chart(cv, {
    type: 'scatter',
    data: {
      datasets: p.sets.map(s => ({
        data: s[0],
        pointStyle: 'rect',
        pointRadius: r,
        pointBorderWidth: 0,
        pointBackgroundColor: s[1],
        showLine: false
      }))
    },
    options: {
      responsive: false,
      animation: false,
      devicePixelRatio: 1,
      layout: {padding: {top: 12, bottom: last ? 0 : 12, left: 0, right: 23}},
      plugins: {
        legend: {display: false},
        tooltip: {enabled: false},
        frame: {ticks: p.ticks, decades: p.decades}
      },
      scales: {
        x: {
          type: 'linear', min: 0, max: 168, bounds: 'data', display: last,
          grid: {display: false, drawTicks: false}, border: {display: false},
          afterBuildTicks: s => { s.ticks = xLabelHours.map(v => ({value: v})); },
          afterFit: s => { s.height = last ? 40 : 0; },
          ticks: {autoSkip: false, maxRotation: 0, padding: 6, callback: (v, i) => xLabels[i]}
        },
        y: {
          type: 'logarithmic', min: p.min, max: p.max, bounds: 'data',
          grid: {display: false, drawTicks: false}, border: {display: false},
          afterBuildTicks: s => { s.ticks = p.ticks.map(v => ({value: v})); },
          afterFit: s => { s.width = 80; },
          ticks: {autoSkip: false, padding: 4, callback: v => powerLabel(v)},
          title: {display: true, text: p.unit, padding: {top: 25, bottom: 0}}
        }
      }
    },
    plugins: [framePlugin]
  });
});

// panel titles and footer
const titleRows = [
  {top: 5, items: [['0.035 to 0.065 MeV Electrons', BLACK, 80], ['0.7 to 4.0 Mev Electrons', BLUE, 329]]},
  {top: 220, items: [['0.14-0.62 MeV H', BLACK, 80], ['0.62-2.22 MeV H', BLUE, 225], ['2.2-12 MeV H', TAN, 362], ['13-100 MeV H', RED, 488]]},
  {top: 437, items: [['0.12-1.08 MeV/n He', BLACK, 80], ['0.12-1.08 MeV/n CNO', BLUE, 249], ['0.12-1.08 MeV Fe', RED, 425]]},
  {top: 654, items: [['4 to 12 MeV/n He', BLACK, 80], ['4 to 12 MeV/n CNO', BLUE, 233], ['4 to 12 MeV Fe', RED, 393]]}
];
function addText(text, color, left, top, right) {
  const d = document.createElement('div');
  d.className = 'lbl';
  d.textContent = text;
  d.style.color = color;
  d.style.top = top + 'px';
  if (right !== undefined) d.style.right = right + 'px'; else d.style.left = left + 'px';
  page.appendChild(d);
}
titleRows.forEach(row => row.items.forEach(it => addText(it[0], it[1], it[2], row.top)));
addText('STEREO Behind', BLACK, 80, 872);
addText('Start: 23-Jul-2007 00:00 UTC', BLACK, 297, 872);
addText('STEREO Ahead', BLACK, 0, 872, 24);
</script>
</body>
</html>
